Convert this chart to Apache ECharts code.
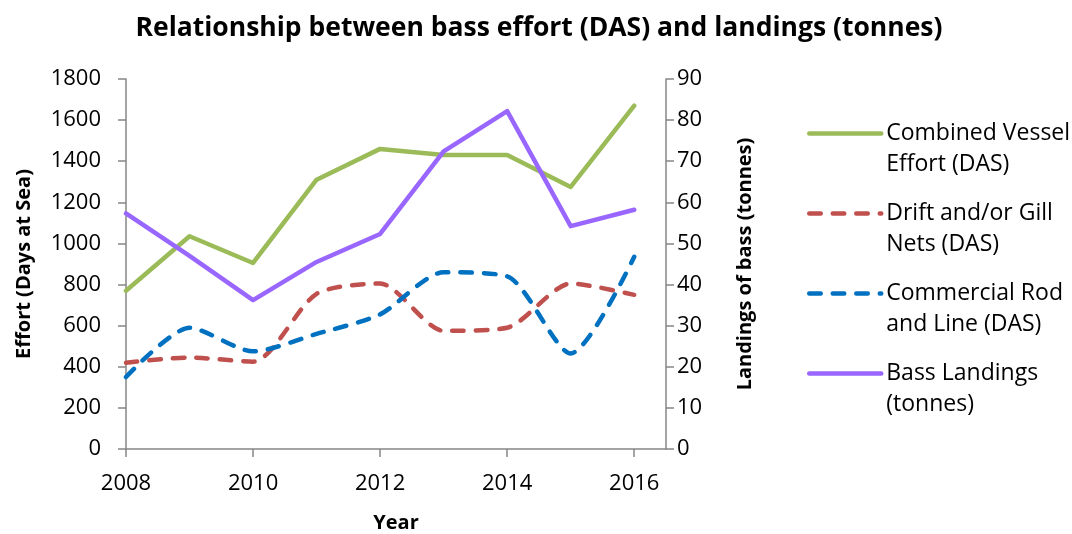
<!DOCTYPE html>
<html>
<head>
<meta charset="utf-8">
<script src="https://cdn.jsdelivr.net/npm/echarts@6/dist/echarts.min.js"></script>
<style>
html,body{margin:0;padding:0;background:#fff;}
#chart{width:1072px;height:534px;}
</style>
</head>
<body>
<div id="chart"></div>
<script>
var years = [2008, 2009, 2010, 2011, 2012, 2013, 2014, 2015, 2016];
var combinedEffort = [770, 1035, 905, 1310, 1460, 1430, 1430, 1275, 1670];
var driftGillNets = [420, 445, 425, 755, 805, 575, 590, 805, 750];
var rodAndLine = [350, 590, 475, 560, 655, 860, 840, 465, 935];
var bassLandings = [57.3, 47, 36.2, 45.5, 52.3, 72.4, 82.2, 54.2, 58.2];
var xTickLabels = [2008, 2010, 2012, 2014, 2016];

var seriesNames = ['Combined Vessel\nEffort (DAS)', 'Drift and/or Gill\nNets (DAS)', 'Commercial Rod\nand Line (DAS)', 'Bass Landings\n(tonnes)'];
var seriesColors = ['#9BBB59', '#C0504D', '#0070C0', '#9966FF'];

function pairs(vals) { return years.map(function (y, i) { return [y, vals[i]]; }); }

var FONT = '"Open Sans"';
var axisGrey = '#868686';
var dash = [11.5, 12];
var lineStyles = [
  {color: seriesColors[0], width: 4.5, type: 'solid', cap: 'round', join: 'round'},
  {color: seriesColors[1], width: 4.5, type: dash, cap: 'round', join: 'round'},
  {color: seriesColors[2], width: 4.5, type: dash, cap: 'round', join: 'round'},
  {color: seriesColors[3], width: 4.5, type: 'solid', cap: 'round', join: 'round'}
];

var chart = echarts.init(document.getElementById('chart'), null, {renderer: 'canvas'});
chart.setOption({
  animation: false,
  backgroundColor: '#ffffff',
  textStyle: {fontFamily: FONT, color: '#000'},
  title: {
    text: 'Relationship between bass effort (DAS) and landings (tonnes)',
    left: 534, top: 10, textAlign: 'center',
    textStyle: {fontFamily: FONT, fontSize: 26.5, fontWeight: 'bold', color: '#000'}
  },
  grid: {left: 126, right: 406, top: 79, bottom: 85, containLabel: false, outerBoundsMode: 'none'},
  legend: {
    orient: 'vertical', left: 807, top: 87, padding: 0,
    itemWidth: 72, itemHeight: 14, itemGap: -13,
    itemStyle: {opacity: 0},
    formatter: function (n) { return '\n' + n; },
    textStyle: {fontFamily: FONT, fontSize: 23, lineHeight: 31, color: '#000'},
    data: seriesNames.map(function (n, i) {
      return {name: n, lineStyle: lineStyles[i], itemStyle: {opacity: 0}};
    })
  },
  xAxis: {
    type: 'value', min: 2008, max: 2016.5, interval: 2,
    name: 'Year', nameLocation: 'middle', nameGap: 64,
    nameTextStyle: {fontFamily: FONT, fontSize: 20, fontWeight: 'bold', color: '#000'},
    axisLine: {show: true, lineStyle: {color: axisGrey, width: 1.5}},
    axisTick: {show: true, length: 8, lineStyle: {color: axisGrey, width: 1.5}, customValues: xTickLabels},
    axisLabel: {fontFamily: FONT, fontSize: 22, color: '#000', margin: 24, customValues: xTickLabels,
      formatter: function (v) { return String(v); }},
    splitLine: {show: false}
  },
  yAxis: [{
    type: 'value', min: 0, max: 1800, interval: 200, position: 'left',
    name: 'Effort (Days at Sea)', nameLocation: 'middle', nameGap: 92, nameRotate: 90,
    nameTextStyle: {fontFamily: FONT, fontSize: 20, fontWeight: 'bold', color: '#000'},
    axisLine: {show: true, lineStyle: {color: axisGrey, width: 1.5}},
    axisTick: {show: true, length: 8, lineStyle: {color: axisGrey, width: 1.5}},
    axisLabel: {fontFamily: FONT, fontSize: 22, color: '#000', margin: 25,
      formatter: function (v) { return String(v); }},
    splitLine: {show: false}
  }, {
    type: 'value', min: 0, max: 90, interval: 10, position: 'right',
    name: 'Landings of bass (tonnes)', nameLocation: 'middle', nameGap: 69, nameRotate: 90,
    nameTextStyle: {fontFamily: FONT, fontSize: 20, fontWeight: 'bold', color: '#000'},
    axisLine: {show: true, lineStyle: {color: axisGrey, width: 1.5}},
    axisTick: {show: true, length: 8, lineStyle: {color: axisGrey, width: 1.5}},
    axisLabel: {fontFamily: FONT, fontSize: 22, color: '#000', margin: 11,
      formatter: function (v) { return String(v); }},
    splitLine: {show: false}
  }],
  series: [{
    name: seriesNames[0], type: 'line', yAxisIndex: 0, data: pairs(combinedEffort),
    symbol: 'none', showSymbol: false, smooth: false,
    lineStyle: lineStyles[0], itemStyle: {color: seriesColors[0]}
  }, {
    name: seriesNames[1], type: 'line', yAxisIndex: 0, data: pairs(driftGillNets),
    symbol: 'none', showSymbol: false, smooth: 0.25,
    lineStyle: lineStyles[1], itemStyle: {color: seriesColors[1]}
  }, {
    name: seriesNames[2], type: 'line', yAxisIndex: 0, data: pairs(rodAndLine),
    symbol: 'none', showSymbol: false, smooth: 0.25,
    lineStyle: lineStyles[2], itemStyle: {color: seriesColors[2]}
  }, {
    name: seriesNames[3], type: 'line', yAxisIndex: 1, data: pairs(bassLandings),
    symbol: 'none', showSymbol: false, smooth: false,
    lineStyle: lineStyles[3], itemStyle: {color: seriesColors[3]},
    z: 3
  }]
});
</script>
</body>
</html>
